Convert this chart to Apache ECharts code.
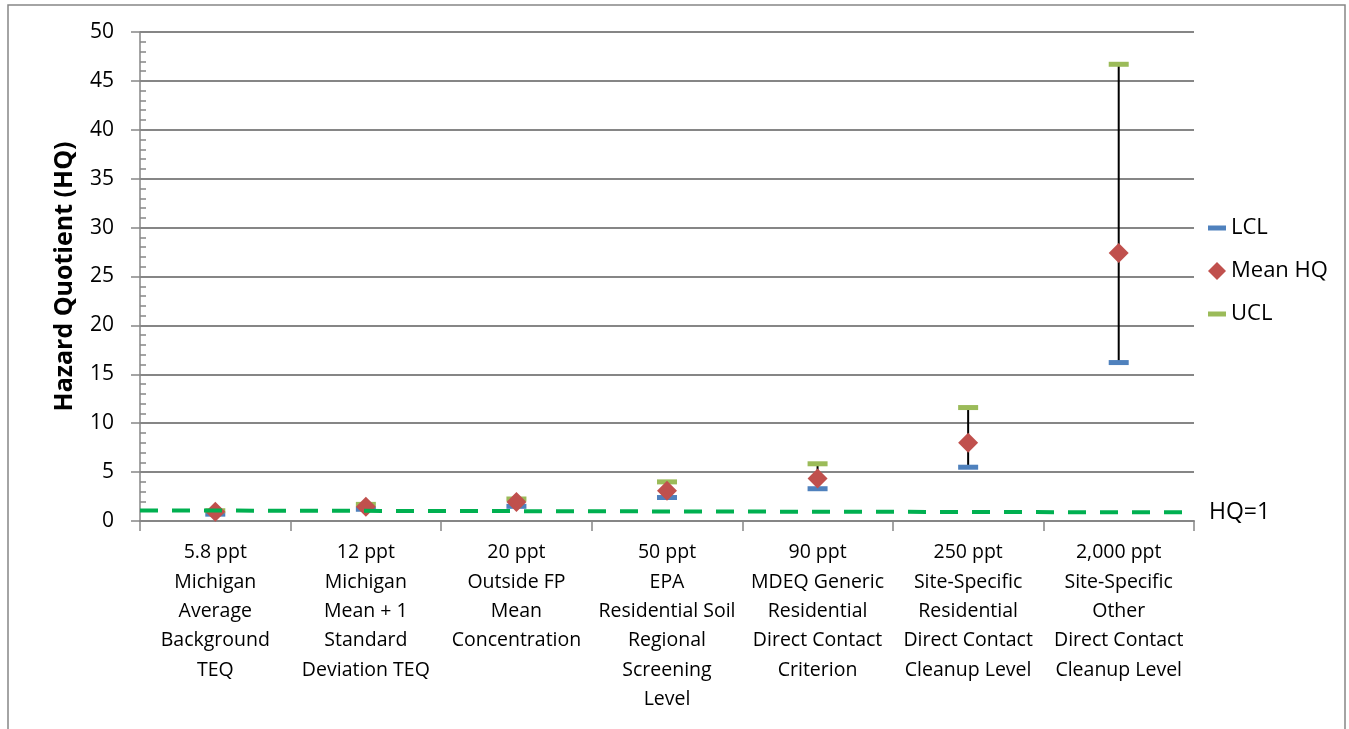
<!DOCTYPE html>
<html>
<head>
<meta charset="utf-8">
<script src="https://cdn.jsdelivr.net/npm/echarts@6/dist/echarts.min.js"></script>
<style>html,body{margin:0;padding:0;background:#fff}#c{width:1349px;height:729px}</style>
</head>
<body>
<div id="c"></div>
<script>
const categories = [
  "5.8 ppt\nMichigan\nAverage\nBackground\nTEQ",
  "12 ppt\nMichigan\nMean + 1\nStandard\nDeviation TEQ",
  "20 ppt\nOutside FP\nMean\nConcentration",
  "50 ppt\nEPA\nResidential Soil\nRegional\nScreening\nLevel",
  "90 ppt\nMDEQ Generic\nResidential\nDirect Contact\nCriterion",
  "250 ppt\nSite-Specific\nResidential\nDirect Contact\nCleanup Level",
  "2,000 ppt\nSite-Specific\nOther\nDirect Contact\nCleanup Level"
];
const lcl  = [0.7, 1.2, 1.5, 2.4, 3.3, 5.5, 16.2];
const mean = [0.95, 1.45, 1.95, 3.1, 4.35, 8.0, 27.4];
const ucl  = [1.05, 1.7, 2.25, 4.0, 5.85, 11.6, 46.7];
const hqLine = [[0, 1.08], [7, 0.88]];
const yTicks = [0, 5, 10, 15, 20, 25, 30, 35, 40, 45, 50];

const FONT = '"Open Sans"';
const GRAY = '#868686';
const chart = echarts.init(document.getElementById('c'), null, {renderer: 'canvas'});

const legendBase = {
  orient: 'vertical', left: 1208, itemGap: 0, padding: 0,
  textStyle: {fontFamily: FONT, fontSize: 22, lineHeight: 24, color: '#000'},
  itemWidth: 18, itemHeight: 5, selectedMode: false
};

chart.setOption({
  animation: false,
  textStyle: {fontFamily: FONT},
  grid: {left: 140, right: 155, top: 32, bottom: 208},
  graphic: [{
    type: 'rect', shape: {x: 8, y: 5, width: 1337, height: 740},
    style: {fill: 'none', stroke: GRAY, lineWidth: 1.5}, silent: true, z: -10
  }],
  legend: [
    Object.assign({}, legendBase, {top: 216, data: [{name: 'LCL', icon: 'rect'}]}),
    Object.assign({}, legendBase, {top: 259, itemHeight: 18, itemWidth: 18, data: [{name: 'Mean HQ', icon: 'diamond'}]}),
    Object.assign({}, legendBase, {top: 302, data: [{name: 'UCL', icon: 'rect'}]})
  ],
  xAxis: [{
    type: 'category', data: categories, boundaryGap: true,
    axisLine: {lineStyle: {color: GRAY, width: 2}},
    axisTick: {show: true, length: 10, alignWithLabel: false, lineStyle: {color: GRAY, width: 1.5}},
    axisLabel: {fontFamily: FONT, fontSize: 19.5, color: '#000', lineHeight: 29.4, margin: 17, interval: 0}
  }, {
    type: 'value', min: 0, max: 7, show: false
  }],
  yAxis: [{
    type: 'value', min: 0, max: 50, interval: 5,
    name: 'Hazard Quotient (HQ)', nameLocation: 'middle', nameGap: 63,
    nameTextStyle: {fontFamily: FONT, fontSize: 25, fontWeight: 'bold', color: '#000'},
    axisLine: {show: true, lineStyle: {color: GRAY, width: 1.5}},
    axisTick: {show: true, length: 9, lineStyle: {color: GRAY, width: 1.5}},
    axisLabel: {fontFamily: FONT, fontSize: 21, color: '#000', margin: 26,
      formatter: v => yTicks.indexOf(v) >= 0 ? String(v) : ''},
    splitLine: {show: true, lineStyle: {color: GRAY, width: 2}}
  }, {
    type: 'value', min: 0, max: 50, interval: 5, position: 'left',
    axisLine: {show: false}, axisLabel: {show: false}, splitLine: {show: false},
    axisTick: {show: false, inside: true},
    minorTick: {show: true, splitNumber: 5, length: 6, lineStyle: {color: GRAY, width: 1.5}}
  }],
  series: [
    {
      type: 'custom', name: 'err', z: 2,
      renderItem: function (params, api) {
        const p1 = api.coord([api.value(0), api.value(1)]);
        const p2 = api.coord([api.value(0), api.value(2)]);
        return {type: 'line', shape: {x1: p1[0], y1: p1[1], x2: p2[0], y2: p2[1]},
          style: {stroke: '#000', lineWidth: 2}};
      },
      data: categories.map((c, i) => [i, lcl[i], ucl[i]])
    },
    {
      type: 'scatter', name: 'LCL', z: 3, symbol: 'rect', symbolSize: [20, 5],
      itemStyle: {color: '#4F81BD', opacity: 1}, data: lcl
    },
    {
      type: 'scatter', name: 'UCL', z: 3, symbol: 'rect', symbolSize: [20, 5],
      itemStyle: {color: '#9BBB59', opacity: 1}, data: ucl
    },
    {
      type: 'scatter', name: 'Mean HQ', z: 4, symbol: 'diamond', symbolSize: [20, 20],
      itemStyle: {color: '#C0504D', opacity: 1}, data: mean
    },
    {
      type: 'line', name: 'HQ=1', xAxisIndex: 1, z: 5, symbol: 'none',
      lineStyle: {color: '#00B050', width: 4, type: [18, 14]},
      data: hqLine,
      endLabel: {show: true, formatter: 'HQ=1', fontFamily: FONT, fontSize: 23, color: '#000', distance: 15}
    }
  ]
});
</script>
</body>
</html>
